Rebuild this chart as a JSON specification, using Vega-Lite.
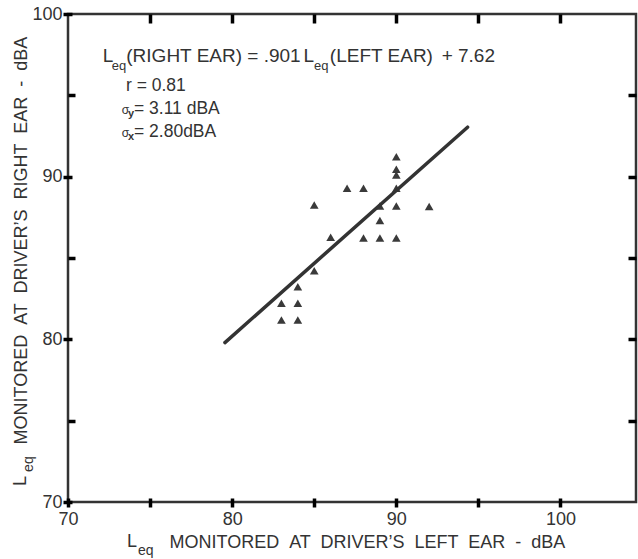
{
  "$schema": "https://vega.github.io/schema/vega-lite/v6.json",
  "width": 568,
  "height": 488,
  "autosize": {"type": "none"},
  "padding": {"left": 68, "top": 14, "right": 2, "bottom": 57},
  "background": "white",
  "config": {
    "view": {"stroke": "#333333", "strokeWidth": 2.5},
    "font": "Liberation Sans",
    "axis": {
      "domain": false,
      "grid": false,
      "ticks": true,
      "tickOpacity": 1,
      "labelFont": "Liberation Sans",
      "labelFontSize": 18,
      "labelColor": "#333333",
      "labelFlush": false,
      "labelOverlap": false,
      "titleFont": "Liberation Sans",
      "titleColor": "#333333",
      "titleFontWeight": "normal"
    }
  },
  "datasets": {
    "points": [
      {"left": 90, "right": 91.23},
      {"left": 90, "right": 90.45},
      {"left": 90, "right": 90.1},
      {"left": 90, "right": 89.29},
      {"left": 87, "right": 89.29},
      {"left": 88, "right": 89.29},
      {"left": 85, "right": 88.26},
      {"left": 89, "right": 88.2},
      {"left": 90, "right": 88.2},
      {"left": 92, "right": 88.16},
      {"left": 89, "right": 87.3},
      {"left": 86, "right": 86.28},
      {"left": 88, "right": 86.23},
      {"left": 89, "right": 86.23},
      {"left": 90, "right": 86.23},
      {"left": 85, "right": 84.22},
      {"left": 84, "right": 83.24},
      {"left": 83, "right": 82.22},
      {"left": 84, "right": 82.22},
      {"left": 83, "right": 81.19},
      {"left": 84, "right": 81.19}
    ],
    "fit": [
      {"left": 79.56, "right": 79.8},
      {"left": 94.34, "right": 93.04}
    ],
    "eqMain": [
      {"left": 72.11, "right": 97.05, "t": "L"},
      {"left": 73.55, "right": 97.05, "t": "(RIGHT EAR) = .901"},
      {"left": 84.35, "right": 97.05, "t": "L"},
      {"left": 85.95, "right": 97.05, "t": "(LEFT EAR)"},
      {"left": 92.76, "right": 97.05, "t": "+ 7.62"}
    ],
    "eqSub": [
      {"left": 72.66, "right": 96.56, "t": "eq"},
      {"left": 84.98, "right": 96.56, "t": "eq"}
    ],
    "stats": [
      {"left": 73.53, "right": 95.27, "t": "r = 0.81"},
      {"left": 74.02, "right": 93.85, "t": "= 3.11 dBA"},
      {"left": 74.02, "right": 92.44, "t": "= 2.80dBA"}
    ],
    "sigma": [
      {"left": 73.27, "right": 93.85, "t": "σ"},
      {"left": 73.27, "right": 92.44, "t": "σ"}
    ],
    "sigmaSub": [
      {"left": 73.65, "right": 93.67, "t": "y"},
      {"left": 73.65, "right": 92.26, "t": "x"}
    ],
    "xTitleL": [{"left": 73.59, "right": 67.24, "t": "L"}],
    "xTitleSub": [{"left": 74.26, "right": 66.75, "t": "eq"}],
    "yTitleL": [{"left": 67.44, "right": 70.99, "t": "L"}],
    "yTitleSub": [{"left": 67.87, "right": 71.85, "t": "eq"}]
  },
  "resolve": {"axis": {"x": "independent", "y": "independent"}},
  "layer": [
    {
      "data": {"name": "points"},
      "mark": {"type": "point", "shape": "triangle-up", "filled": true, "size": 75, "color": "#3a3a3a", "opacity": 1},
      "encoding": {
        "x": {
          "field": "left", "type": "quantitative",
          "scale": {"domain": [70, 104.6], "nice": false, "zero": false},
          "axis": {
            "orient": "bottom",
            "values": [70, 75, 80, 85, 90, 95, 100],
            "labelExpr": "datum.value % 10 === 0 ? datum.label : ''",
            "offset": -4,
            "tickSize": 9,
            "tickColor": "black",
            "tickWidth": 3.5,
            "labelPadding": 3,
            "title": "MONITORED \u00a0AT \u00a0DRIVER’S \u00a0LEFT \u00a0EAR \u00a0- \u00a0dBA",
            "titleFontSize": 18,
            "titleAnchor": "start",
            "titleAlign": "left",
            "titleBaseline": "alphabetic",
            "titleX": 101,
            "titleY": 49
          }
        },
        "y": {
          "field": "right", "type": "quantitative",
          "scale": {"domain": [70, 100], "nice": false, "zero": false},
          "axis": {
            "orient": "left",
            "values": [70, 80, 90, 100],
            "offset": -4,
            "tickSize": 9,
            "tickColor": "black",
            "tickWidth": 3.5,
            "labelPadding": 1,
            "title": "MONITORED \u00a0AT \u00a0DRIVER’S \u00a0RIGHT \u00a0EAR \u00a0- \u00a0dBA",
            "titleFontSize": 18,
            "titleAngle": 270,
            "titleAnchor": "start",
            "titleAlign": "left",
            "titleBaseline": "alphabetic",
            "titleX": -46,
            "titleY": 430
          }
        }
      }
    },
    {
      "data": {"name": "fit"},
      "mark": {"type": "line", "color": "#333333", "strokeWidth": 3.5, "strokeCap": "round"},
      "encoding": {
        "x": {
          "field": "left", "type": "quantitative",
          "scale": {"domain": [70, 104.6], "nice": false, "zero": false},
          "axis": {"orient": "top", "values": [75, 80, 85, 90, 95, 100], "offset": -9, "tickSize": 9, "tickColor": "black", "tickWidth": 3.5, "labels": false, "title": null}
        },
        "y": {
          "field": "right", "type": "quantitative",
          "scale": {"domain": [70, 100], "nice": false, "zero": false},
          "axis": {"orient": "right", "values": [75, 80, 85, 90, 95], "offset": -8, "tickSize": 8, "tickColor": "black", "tickWidth": 3.5, "labels": false, "title": null}
        }
      }
    },
    {
      "data": {"name": "stats"},
      "mark": {"type": "text", "align": "left", "baseline": "alphabetic", "fontSize": 17.5, "color": "#333333", "font": "Liberation Sans"},
      "encoding": {
        "x": {"field": "left", "type": "quantitative", "scale": {"domain": [70, 104.6], "nice": false, "zero": false}, "axis": null},
        "y": {
          "field": "right", "type": "quantitative",
          "scale": {"domain": [70, 100], "nice": false, "zero": false},
          "axis": {"orient": "left", "values": [75, 85, 95], "offset": -7, "tickSize": 7, "tickColor": "black", "tickWidth": 3.5, "labels": false, "title": null}
        },
        "text": {"field": "t"}
      }
    },
    {
      "data": {"name": "eqMain"},
      "mark": {"type": "text", "align": "left", "baseline": "alphabetic", "fontSize": 19, "color": "#333333", "font": "Liberation Sans"},
      "encoding": {
        "x": {"field": "left", "type": "quantitative", "scale": {"domain": [70, 104.6], "nice": false, "zero": false}, "axis": null},
        "y": {"field": "right", "type": "quantitative", "scale": {"domain": [70, 100], "nice": false, "zero": false}, "axis": null},
        "text": {"field": "t"}
      }
    },
    {
      "data": {"name": "eqSub"},
      "mark": {"type": "text", "align": "left", "baseline": "alphabetic", "fontSize": 13, "color": "#333333", "font": "Liberation Sans"},
      "encoding": {
        "x": {"field": "left", "type": "quantitative", "scale": {"domain": [70, 104.6], "nice": false, "zero": false}, "axis": null},
        "y": {"field": "right", "type": "quantitative", "scale": {"domain": [70, 100], "nice": false, "zero": false}, "axis": null},
        "text": {"field": "t"}
      }
    },
    {
      "data": {"name": "sigma"},
      "mark": {"type": "text", "align": "left", "baseline": "alphabetic", "fontSize": 12, "color": "#333333", "font": "Liberation Sans"},
      "encoding": {
        "x": {"field": "left", "type": "quantitative", "scale": {"domain": [70, 104.6], "nice": false, "zero": false}, "axis": null},
        "y": {"field": "right", "type": "quantitative", "scale": {"domain": [70, 100], "nice": false, "zero": false}, "axis": null},
        "text": {"field": "t"}
      }
    },
    {
      "data": {"name": "sigmaSub"},
      "mark": {"type": "text", "align": "left", "baseline": "alphabetic", "fontSize": 11, "fontWeight": "bold", "color": "#333333", "font": "Liberation Sans"},
      "encoding": {
        "x": {"field": "left", "type": "quantitative", "scale": {"domain": [70, 104.6], "nice": false, "zero": false}, "axis": null},
        "y": {"field": "right", "type": "quantitative", "scale": {"domain": [70, 100], "nice": false, "zero": false}, "axis": null},
        "text": {"field": "t"}
      }
    },
    {
      "data": {"name": "xTitleL"},
      "mark": {"type": "text", "align": "left", "baseline": "alphabetic", "fontSize": 18, "color": "#333333", "font": "Liberation Sans"},
      "encoding": {
        "x": {"field": "left", "type": "quantitative", "scale": {"domain": [70, 104.6], "nice": false, "zero": false}, "axis": null},
        "y": {"field": "right", "type": "quantitative", "scale": {"domain": [70, 100], "nice": false, "zero": false}, "axis": null},
        "text": {"field": "t"}
      }
    },
    {
      "data": {"name": "xTitleSub"},
      "mark": {"type": "text", "align": "left", "baseline": "alphabetic", "fontSize": 14, "color": "#333333", "font": "Liberation Sans"},
      "encoding": {
        "x": {"field": "left", "type": "quantitative", "scale": {"domain": [70, 104.6], "nice": false, "zero": false}, "axis": null},
        "y": {"field": "right", "type": "quantitative", "scale": {"domain": [70, 100], "nice": false, "zero": false}, "axis": null},
        "text": {"field": "t"}
      }
    },
    {
      "data": {"name": "yTitleL"},
      "mark": {"type": "text", "align": "left", "baseline": "alphabetic", "angle": 270, "fontSize": 18, "color": "#333333", "font": "Liberation Sans"},
      "encoding": {
        "x": {"field": "left", "type": "quantitative", "scale": {"domain": [70, 104.6], "nice": false, "zero": false}, "axis": null},
        "y": {"field": "right", "type": "quantitative", "scale": {"domain": [70, 100], "nice": false, "zero": false}, "axis": null},
        "text": {"field": "t"}
      }
    },
    {
      "data": {"name": "yTitleSub"},
      "mark": {"type": "text", "align": "left", "baseline": "alphabetic", "angle": 270, "fontSize": 14, "color": "#333333", "font": "Liberation Sans"},
      "encoding": {
        "x": {"field": "left", "type": "quantitative", "scale": {"domain": [70, 104.6], "nice": false, "zero": false}, "axis": null},
        "y": {"field": "right", "type": "quantitative", "scale": {"domain": [70, 100], "nice": false, "zero": false}, "axis": null},
        "text": {"field": "t"}
      }
    }
  ]
}
